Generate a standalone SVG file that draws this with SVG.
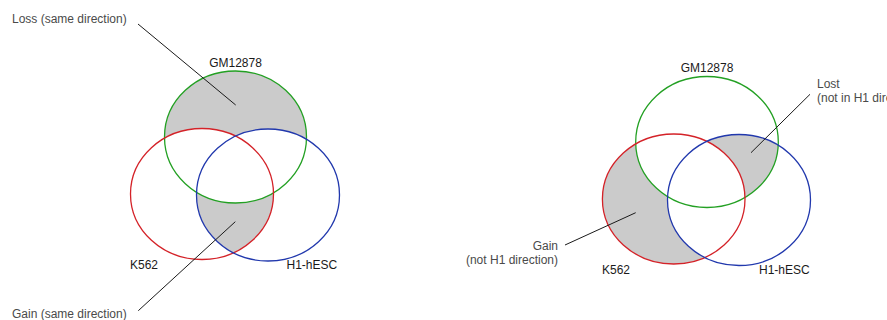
<svg xmlns="http://www.w3.org/2000/svg" width="887" height="320" viewBox="0 0 887 320">
<style>
.set{fill:none;stroke-width:1.3}
.g{stroke:#23a023}
.r{stroke:#d42228}
.b{stroke:#2138ad}
.shade{fill:#cbcbcb}
.lbl{font-family:"Liberation Sans",Arial,sans-serif;font-size:12px;fill:#1a1a1a}
.ann{font-family:"Liberation Sans",Arial,sans-serif;font-size:12px;fill:#4a4a4a}
.lead{stroke:#1a1a1a;stroke-width:1;fill:none}
</style>
<defs>
<mask id="mLoss" maskUnits="userSpaceOnUse" x="0" y="0" width="887" height="320">
<ellipse cx="235.5" cy="137" rx="71" ry="66" fill="#fff"/>
<ellipse cx="202" cy="194" rx="71.5" ry="65.5" fill="#000"/>
<ellipse cx="268" cy="195" rx="71.5" ry="66" fill="#000"/>
</mask>
<clipPath id="cRedL"><ellipse cx="202" cy="194" rx="71.5" ry="65.5"/></clipPath>
<mask id="mGainL" maskUnits="userSpaceOnUse" x="0" y="0" width="887" height="320">
<rect x="0" y="0" width="887" height="320" fill="#fff"/>
<ellipse cx="235.5" cy="137" rx="71" ry="66" fill="#000"/>
</mask>
<mask id="mGainR" maskUnits="userSpaceOnUse" x="0" y="0" width="887" height="320">
<ellipse cx="673.7" cy="199" rx="71.3" ry="65" fill="#fff"/>
<ellipse cx="707" cy="142" rx="71.3" ry="65.5" fill="#000"/>
<ellipse cx="739" cy="200" rx="71.5" ry="65.5" fill="#000"/>
</mask>
<clipPath id="cGreenR"><ellipse cx="707" cy="142" rx="71.3" ry="65.5"/></clipPath>
<mask id="mLostR" maskUnits="userSpaceOnUse" x="0" y="0" width="887" height="320">
<rect x="0" y="0" width="887" height="320" fill="#fff"/>
<ellipse cx="673.7" cy="199" rx="71.3" ry="65" fill="#000"/>
</mask>
</defs>

<g id="left-shading">
<rect class="shade" x="0" y="0" width="887" height="320" mask="url(#mLoss)"/>
<g mask="url(#mGainL)"><ellipse class="shade" cx="268" cy="195" rx="71.5" ry="66" clip-path="url(#cRedL)"/></g>
</g>
<g id="right-shading">
<rect class="shade" x="0" y="0" width="887" height="320" mask="url(#mGainR)"/>
<g mask="url(#mLostR)"><ellipse class="shade" cx="739" cy="200" rx="71.5" ry="65.5" clip-path="url(#cGreenR)"/></g>
</g>

<g id="L-GM12878"><ellipse class="set g" cx="235.5" cy="137" rx="71" ry="66"/><text class="lbl" x="235.5" y="67" text-anchor="middle">GM12878</text></g>
<g id="L-K562"><ellipse class="set r" cx="202" cy="194" rx="71.5" ry="65.5"/><text class="lbl" x="130" y="269">K562</text></g>
<g id="L-H1hESC"><ellipse class="set b" cx="268" cy="195" rx="71.5" ry="66"/><text class="lbl" x="286.5" y="269">H1-hESC</text></g>

<g id="R-GM12878"><ellipse class="set g" cx="707" cy="142" rx="71.3" ry="65.5"/><text class="lbl" x="707" y="72" text-anchor="middle">GM12878</text></g>
<g id="R-K562"><ellipse class="set r" cx="673.7" cy="199" rx="71.3" ry="65"/><text class="lbl" x="602" y="274">K562</text></g>
<g id="R-H1hESC"><ellipse class="set b" cx="739" cy="200" rx="71.5" ry="65.5"/><text class="lbl" x="759" y="274">H1-hESC</text></g>

<g id="annotations">
<text class="ann" x="12" y="23">Loss (same direction)</text>
<text class="ann" x="12" y="318">Gain (same direction)</text>
<text class="ann" x="558" y="249.5" text-anchor="end">Gain</text>
<text class="ann" x="558" y="263.5" text-anchor="end">(not H1 direction)</text>
<text class="ann" x="817" y="88">Lost</text>
<text class="ann" x="817" y="102">(not in H1 direction)</text>
</g>

<g id="connectors">
<line class="lead" x1="138" y1="24" x2="235.7" y2="105"/>
<line class="lead" x1="138.3" y1="310.7" x2="235.3" y2="221.7"/>
<line class="lead" x1="565" y1="245" x2="635.7" y2="212.7"/>
<line class="lead" x1="810" y1="94.3" x2="751" y2="152.7"/>
</g>
</svg>
